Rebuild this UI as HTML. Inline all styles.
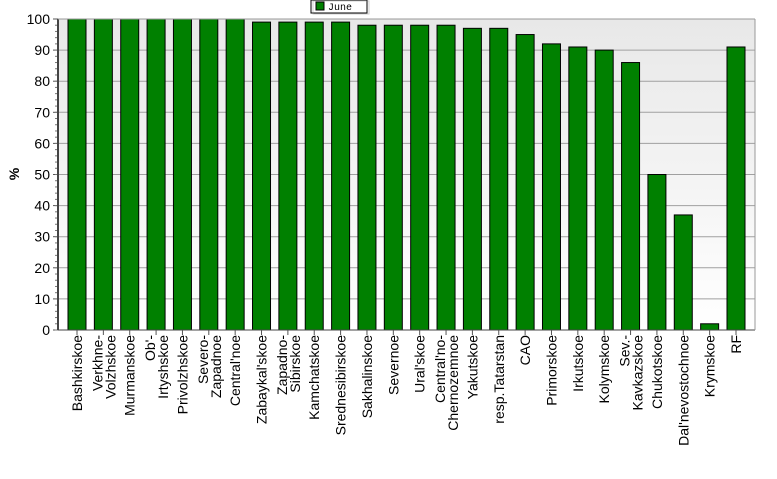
<!DOCTYPE html>
<html><head><meta charset="utf-8"><style>
body{margin:0;background:#fff;}
svg{display:block;font-family:"Liberation Sans",Arial,sans-serif;}
</style></head><body>
<svg id="c" width="777" height="479">
<defs><linearGradient id="bg" x1="0" y1="0" x2="0" y2="1"><stop offset="0" stop-color="#e8e8e8"/><stop offset="1" stop-color="#ffffff"/></linearGradient></defs>
<rect x="58" y="19" width="697" height="311" fill="url(#bg)"/>
<g id="grid"></g><g id="bars"></g><g id="axes"></g><g id="labels"></g>
<text transform="translate(19,174) rotate(-90)" text-anchor="middle" font-size="14" font-weight="bold">%</text>
<g>
<rect x="311" y="0" width="56" height="13" fill="#fff" stroke="#000"/>
<rect x="313" y="1" width="56" height="13" fill="none" stroke="#888" opacity="0.4"/>
<rect x="316" y="2" width="8" height="8" fill="#008000" stroke="#000"/>
<text x="328" y="10" font-size="10" font-family="Liberation Mono,monospace">June</text>
</g>
</svg>
<script>
const categories=[["Bashkirskoe"],["Verkhne-","Volzhskoe"],["Murmanskoe"],["Ob'-","Irtyshskoe"],["Privolzhskoe"],["Severo-","Zapadnoe"],["Central'noe"],["Zabaykal'skoe"],["Zapadno-","Sibirskoe"],["Kamchatskoe"],["Srednesibirskoe"],["Sakhalinskoe"],["Severnoe"],["Ural'skoe"],["Central'no-","Chernozemnoe"],["Yakutskoe"],["resp.Tatarstan"],["CAO"],["Primorskoe"],["Irkutskoe"],["Kolymskoe"],["Sev.-","Kavkazskoe"],["Chukotskoe"],["Dal'nevostochnoe"],["Krymskoe"],["RF"]];
const values=[100,100,100,100,100,100,100,99,99,99,99,98,98,98,98,97,97,95,92,91,90,86,50,37,2,91];
const yTicks=[0,10,20,30,40,50,60,70,80,90,100];
const NS="http://www.w3.org/2000/svg";
const y0=330,y1=19,ymax=100;
function yS(v){return y0-(v/ymax)*(y0-y1);}
function xS(i){return 77+i*26.36;}
function mk(t,a,p){const e=document.createElementNS(NS,t);for(const k in a)e.setAttribute(k,a[k]);p.appendChild(e);return e;}
const grid=document.getElementById('grid'),bars=document.getElementById('bars'),axes=document.getElementById('axes'),labels=document.getElementById('labels');
yTicks.forEach(v=>{
  const g=mk('line',{x1:58,x2:755,y1:yS(v),y2:yS(v),stroke:'#a0a0a0','stroke-width':1},grid);
  
  
  mk('line',{x1:53,x2:58,y1:yS(v),y2:yS(v),stroke:'#555'},axes);
  const t=mk('text',{x:50,y:yS(v)+5,'text-anchor':'end','font-size':14},axes);
  t.textContent=v;
  
  
});
for(let v=0;v<ymax;v+=2){mk('line',{x1:55,x2:58,y1:yS(v),y2:yS(v),stroke:'#777'},axes);}
mk('line',{x1:58,x2:58,y1:19,y2:330,stroke:'#444','stroke-width':2},axes);
mk('line',{x1:58,x2:755,y1:330,y2:330,stroke:'#444','stroke-width':1},axes);
mk('line',{x1:755,x2:755,y1:19,y2:330,stroke:'#999','stroke-width':1},axes);
mk('line',{x1:58,x2:755,y1:19,y2:19,stroke:'#999','stroke-width':1},axes);
values.forEach((v,i)=>{
  const b=mk('rect',{x:xS(i)-9,y:yS(v),width:18,height:y0-yS(v),fill:'#008000',stroke:'#000','stroke-width':1},bars);
  
  
  mk('line',{x1:xS(i),x2:xS(i),y1:330,y2:335,stroke:'#555'},axes);
  const lines=categories[i];
  lines.forEach((s,j)=>{
    const off=lines.length===1?5:(j===0?-1:12);
    const x=xS(i)+off;
    const t=mk('text',{transform:`translate(${x},335) rotate(-90)`,'text-anchor':'end','font-size':14},labels);
    t.textContent=s;
    
    
  });
});
</script>
</body></html>
